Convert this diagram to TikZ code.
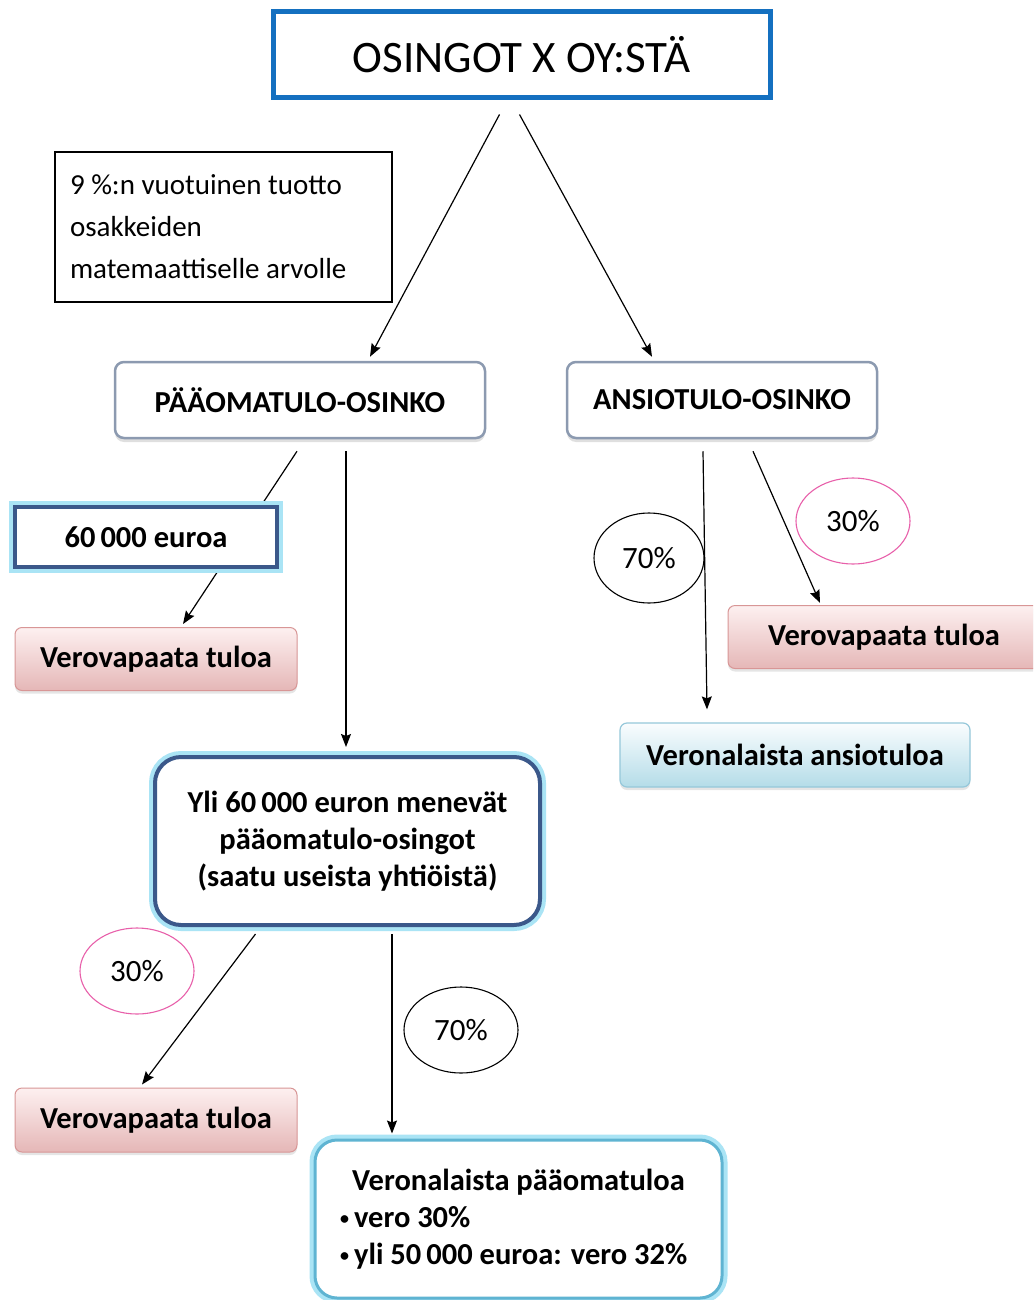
\documentclass[tikz,border=0pt]{standalone}
\usepackage{fontspec}
\setmainfont{Carlito}
\usetikzlibrary{arrows.meta,calc,shapes.geometric,shadows,backgrounds}

\definecolor{titleblue}{RGB}{20,112,192}
\definecolor{darkframe}{RGB}{59,88,138}
\definecolor{glow}{RGB}{170,228,245}
\definecolor{greyframe}{RGB}{140,154,176}
\definecolor{pinkline}{RGB}{232,96,170}
\definecolor{rosetop}{RGB}{253,240,240}
\definecolor{rosebottom}{RGB}{229,183,183}
\definecolor{roseframe}{RGB}{216,150,150}
\definecolor{icetop}{RGB}{250,253,254}
\definecolor{icebottom}{RGB}{180,220,232}
\definecolor{iceframe}{RGB}{150,200,218}
\definecolor{lightframe}{RGB}{95,180,210}

\newcommand{\smallbullet}{\raisebox{3pt}{\fontsize{18}{18}\selectfont\textbullet}\,}

\tikzset{
  arr/.style={line width=1.2pt, -{Stealth[length=13pt,width=10pt,inset=2pt]}},
  plain/.style={font=\fontsize{29}{42}\selectfont},
  boldtxt/.style={font=\fontsize{30.5}{37}\selectfont\bfseries},
  titlebox/.style={draw=titleblue, line width=5pt, fill=white,
    minimum width=497pt, minimum height=86pt,
    font=\fontsize{45}{50}\selectfont},
  notebox/.style={draw=black, line width=1.2pt, fill=white,
    minimum width=337pt, minimum height=150pt, text width=307pt, align=flush left, plain},
  kindbox/.style={draw=greyframe, line width=2.5pt, fill=white, rounded corners=9pt,
    minimum height=76pt, boldtxt,
    drop shadow={shadow xshift=0pt, shadow yshift=-4pt, opacity=0.25}},
  limitbox/.style={draw=darkframe, line width=4pt, fill=white,
    preaction={draw=glow, line width=12pt}, boldtxt},
  freebox/.style={draw=roseframe, line width=1pt, rounded corners=7pt,
    top color=rosetop, bottom color=rosebottom,
    minimum width=282pt, minimum height=63pt, boldtxt,
    drop shadow={shadow xshift=0pt, shadow yshift=-3pt, opacity=0.2}},
  taxbox/.style={draw=iceframe, line width=1.2pt, rounded corners=7pt,
    top color=icetop, bottom color=icebottom,
    minimum width=350pt, minimum height=64pt, boldtxt,
    drop shadow={shadow xshift=0pt, shadow yshift=-3pt, opacity=0.2}},
  pct/.style={ellipse, line width=1.1pt, minimum width=114pt, minimum height=86pt,
    inner sep=0pt, font=\fontsize{31}{31}\selectfont},
  pctpink/.style={pct, draw=pinkline},
  pctblack/.style={pct, draw=black},
}

\begin{document}
\begin{tikzpicture}[x=1pt, y=-1pt]
\clip (0,0) rectangle (1033,1300);

% top heading
\node[titlebox] (top) at (521.5,55) {OSINGOT X OY:STÄ};

% explanatory note
\node[notebox] (note) at (223.5,227) {9 \%:n vuotuinen tuotto\\osakkeiden\\matemaattiselle arvolle};

% two kinds of dividend
\node[kindbox, minimum width=370pt] (pa) at (300,400) {PÄÄOMATULO-OSINKO};
\node[kindbox, minimum width=310pt] (ao) at (722,400) {ANSIOTULO-OSINKO};

% capital income branch
\node[limitbox, minimum width=262pt, minimum height=60pt] (e60) at (146,537) {60\,000 euroa};
\node[freebox] (vv1) at (156,659) {Verovapaata tuloa};
\node[limitbox, rounded corners=26pt, minimum width=385pt, minimum height=168pt,
      align=center] (yli) at (347.5,841)
  {Yli 60\,000 euron menevät\\pääomatulo-osingot\\(saatu useista yhtiöistä)};
\node[pctpink] (p30a) at (137,971) {30\%};
\node[pctblack] (p70a) at (461,1030) {70\%};
\node[freebox, minimum height=64pt] (vv2) at (156,1120) {Verovapaata tuloa};
\node[draw=lightframe, line width=3pt, fill=white, rounded corners=22pt,
      preaction={draw=glow, line width=11pt},
      minimum width=407pt, minimum height=158pt, text width=357pt, align=flush left,
      boldtxt] (vp) at (518.5,1219)
  {\makebox[\linewidth]{Veronalaista pääomatuloa}\\
   \smallbullet vero 30\%\\
   \smallbullet yli 50\,000 euroa: vero 32\%};

% earned income branch
\node[pctpink] (p30b) at (853,521) {30\%};
\node[pctblack, minimum width=110pt, minimum height=90pt] (p70b) at (649,558) {70\%};
\node[freebox, minimum width=312pt] (vv3) at (884,637) {Verovapaata tuloa};
\node[taxbox] (va) at (795,755) {Veronalaista ansiotuloa};

% connectors, kept behind the boxes
\begin{scope}[on background layer]
\fill[white] (0,0) rectangle (1033,1300);
\draw[arr] ($(top.south)+(-22,14)$) -- ($(pa.north)+(70,-4)$);
\draw[arr] ($(top.south)+(-2,14)$) -- ($(ao.north)+(-70,-4)$);
\draw[arr] ($(pa.south)+(-3,12)$) -- ($(vv1.north)+(27,-3)$);
\draw[arr] ($(pa.south)+(46,12)$) -- ($(yli.north)+(-1.5,-8)$);
\draw[arr] ($(ao.south)+(-19,12)$) -- ($(va.north)+(-88,-13)$);
\draw[arr] ($(ao.south)+(31,12)$) -- ($(vv3.north)+(-64,-2)$);
\draw[arr] ($(yli.south)+(-92,7)$) -- ($(vv2.north)+(-14,-3)$);
\draw[arr] ($(yli.south)+(44.5,7)$) -- ($(vp.north)+(-126.5,-5)$);
\end{scope}
\end{tikzpicture}
\end{document}
